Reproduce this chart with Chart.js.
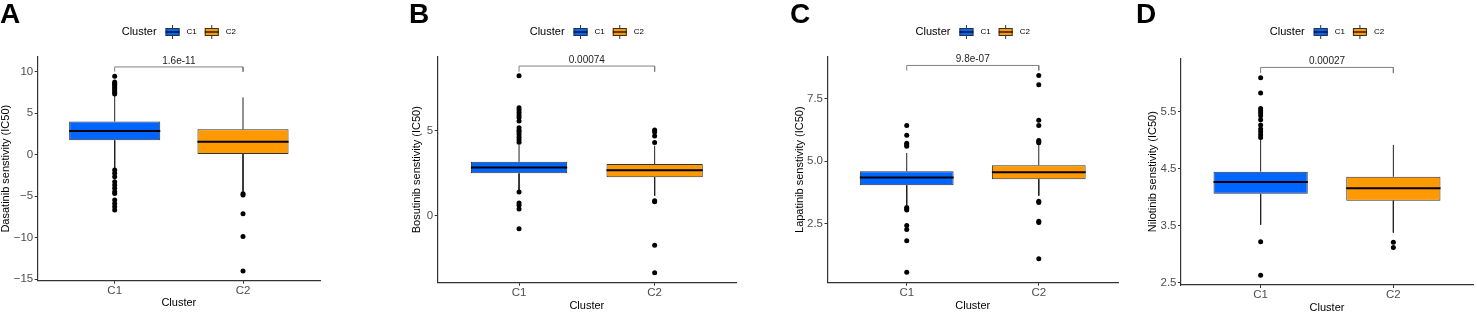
<!DOCTYPE html>
<html lang="en">
<head>
  <meta charset="UTF-8" />
  <title>Drug sensitivity by cluster</title>
  <script src="https://cdn.jsdelivr.net/npm/chart.js"></script>
  <style>
    html, body { margin: 0; padding: 0; background: #fff; overflow: hidden; }
    body { width: 1477px; height: 313px; position: relative; }
    .panel { position: absolute; top: 0; height: 313px; }
  </style>
</head>
<body>
  <div class="panel" style="left:0;width:324px"><canvas id="chartA"></canvas></div>
  <div class="panel" style="left:409px;width:331px"><canvas id="chartB"></canvas></div>
  <div class="panel" style="left:790px;width:332px"><canvas id="chartC"></canvas></div>
  <div class="panel" style="left:1136px;width:341px"><canvas id="chartD"></canvas></div>

  <script>
    const clusters = ['C1', 'C2'];
    const clusterColors = ['#0066ff', '#ff9900'];

    // box summaries: [lower whisker, Q1, median, Q3, upper whisker]
    const dasatinibC1 = [-1.6, 1.73, 2.86, 4.0, 7.2];
    const dasatinibC2 = [-4.45, 0.07, 1.57, 3.06, 6.9];
    const dasatinibOutC1 = [9.45, 8.75, 8.6, 8.45, 8.3, 8.1, 7.9, 7.7, 7.5, 7.3,
      -1.84, -2.24, -2.65, -3.25, -3.65, -4.05, -4.46, -4.66, -5.46, -5.86, -6.27, -6.67];
    const dasatinibOutC2 = [-4.7, -4.85, -7.1, -9.85, -14.0];
    const dasatinibTicks = [-15, -10, -5, 0, 5, 10];
    const dasatinibTickLabels = ['−15', '−10', '−5', '0', '5', '10'];
    const dasatinibRange = [-15.17, 11.8];
    const dasatinibBracket = [10.0, 10.57];

    const bosutinibC1 = [1.45, 2.47, 2.82, 3.15, 4.15];
    const bosutinibC2 = [1.15, 2.24, 2.65, 3.02, 4.1];
    const bosutinibOutC1 = [8.21, 6.33, 6.2, 6.05, 5.9, 5.75, 5.55, 5.15, 5.0, 4.9, 4.75, 4.6, 4.45, 4.3,
      1.37, 0.72, 0.6, 0.37, -0.79];
    const bosutinibOutC2 = [5.02, 4.9, 4.66, 4.29, 0.86, 0.8, -1.76, -3.37];
    const bosutinibTicks = [0, 5];
    const bosutinibTickLabels = ['0', '5'];
    const bosutinibRange = [-3.96, 9.33];
    const bosutinibBracket = [8.45, 8.78];

    const lapatinibC1 = [3.25, 4.04, 4.35, 4.6, 5.33];
    const lapatinibC2 = [3.62, 4.28, 4.56, 4.84, 5.7];
    const lapatinibOutC1 = [6.43, 6.04, 5.72, 5.66, 5.6, 3.15, 3.1, 3.05, 2.43, 2.27, 1.82, 0.56];
    const lapatinibOutC2 = [8.43, 8.06, 6.64, 6.43, 5.83, 5.78, 5.74, 3.4, 3.35, 2.6, 2.55, 1.1];
    const lapatinibTicks = [2.5, 5.0, 7.5];
    const lapatinibTickLabels = ['2.5', '5.0', '7.5'];
    const lapatinibRange = [0.14, 9.18];
    const lapatinibBracket = [8.63, 8.83];

    const nilotinibC1 = [3.52, 4.06, 4.27, 4.45, 5.03];
    const nilotinibC2 = [3.38, 3.94, 4.16, 4.36, 4.92];
    const nilotinibOutC1 = [6.1, 5.83, 5.56, 5.52, 5.48, 5.43, 5.36, 5.27, 5.2, 5.15, 5.1, 5.05, 3.22, 2.63];
    const nilotinibOutC2 = [3.21, 3.12];
    const nilotinibTicks = [2.5, 3.5, 4.5, 5.5];
    const nilotinibTickLabels = ['2.5', '3.5', '4.5', '5.5'];
    const nilotinibRange = [2.46, 6.44];
    const nilotinibBracket = [6.18, 6.28];

    const pValues = ['1.6e-11', '0.00074', '9.8e-07', '0.00027'];

    const BOX_WIDTH = 0.71;
    const FONT = '"Liberation Sans", Arial, Helvetica, sans-serif';
    Chart.defaults.font.family = FONT;

    // p-value label and the "Cluster" legend row (ggplot style keys)
    const ggExtras = {
      id: 'ggExtras',
      afterDraw(chart, args, opts) {
        const {ctx, chartArea, scales: {x, y}} = chart;
        ctx.save();
        ctx.textBaseline = 'middle';

        ctx.font = '10px ' + FONT;
        ctx.fillStyle = '#222';
        ctx.textAlign = 'center';
        ctx.fillText(opts.pLabel, x.getPixelForValue(1.5), y.getPixelForValue(opts.bracketTop) - 6);

        ctx.textAlign = 'left';
        const titleFont = '11px ' + FONT;
        const keyFont = '8px ' + FONT;
        const keyW = 14, keyH = 8;
        ctx.font = titleFont;
        const wt = ctx.measureText('Cluster').width;
        ctx.font = keyFont;
        const wk = clusters.map(c => ctx.measureText(c).width);
        const total = wt + 9 + wk.reduce((a, w) => a + keyW + 7 + w, 0) + 8 * (clusters.length - 1);
        let cx = (chartArea.left + chartArea.right) / 2 - total / 2;
        const cy = opts.legendY;

        ctx.font = titleFont;
        ctx.fillStyle = '#000';
        ctx.fillText('Cluster', cx, cy);
        cx += wt + 9;

        clusters.forEach((c, i) => {
          ctx.strokeStyle = '#333';
          ctx.lineWidth = 1;
          ctx.beginPath();
          ctx.moveTo(cx + keyW / 2, cy - keyH / 2 - 3);
          ctx.lineTo(cx + keyW / 2, cy + keyH / 2 + 3);
          ctx.stroke();
          ctx.fillStyle = clusterColors[i];
          ctx.fillRect(cx, cy - keyH / 2, keyW, keyH);
          ctx.strokeRect(cx + 0.5, cy - keyH / 2 + 0.5, keyW - 1, keyH - 1);
          ctx.strokeStyle = '#000';
          ctx.lineWidth = 1.2;
          ctx.beginPath();
          ctx.moveTo(cx, cy);
          ctx.lineTo(cx + keyW, cy);
          ctx.stroke();
          cx += keyW + 7;
          ctx.font = keyFont;
          ctx.fillStyle = '#000';
          ctx.fillText(c, cx, cy);
          cx += wk[i] + 8;
        });
        ctx.restore();
      }
    };

    function makePanel(id, p) {
      const summaries = [p.c1, p.c2];
      const outliers = [p.out1, p.out2];

      const medians = [], whiskers = [];
      summaries.forEach((s, i) => {
        const x = i + 1;
        medians.push({x: x - BOX_WIDTH / 2, y: s[2]}, {x: x + BOX_WIDTH / 2, y: s[2]}, {x: x, y: null});
        whiskers.push({x: x, y: s[3]}, {x: x, y: s[4]}, {x: x, y: null},
                      {x: x, y: s[1]}, {x: x, y: s[0]}, {x: x, y: null});
      });
      const points = [];
      outliers.forEach((arr, i) => arr.forEach(v => points.push({x: i + 1, y: v})));
      const bracket = [
        {x: 1, y: p.bracket[0]}, {x: 1, y: p.bracket[1]},
        {x: 2, y: p.bracket[1]}, {x: 2, y: p.bracket[0]}
      ];

      const axisBorder = {display: true, color: '#333', width: 1.2};

      new Chart(document.getElementById(id), {
        type: 'scatter',
        data: {
          datasets: [
            {
              type: 'scatter', label: 'outliers', data: points,
              pointRadius: 2.5, backgroundColor: '#000', borderWidth: 0, order: 0
            },
            {
              type: 'line', label: 'median', data: medians,
              borderColor: '#000', borderWidth: 2, pointRadius: 0, fill: false, order: 1
            },
            {
              type: 'bar', label: 'box',
              data: summaries.map((s, i) => ({x: i + 1, y: [s[1], s[3]]})),
              backgroundColor: clusterColors, borderColor: '#333', borderWidth: 1,
              borderSkipped: false, barPercentage: BOX_WIDTH, categoryPercentage: 1, order: 2
            },
            {
              type: 'line', label: 'whiskers', data: whiskers,
              borderColor: '#222', borderWidth: 1, pointRadius: 0, fill: false, order: 3
            },
            {
              type: 'line', label: 'bracket', data: bracket,
              borderColor: '#808080', borderWidth: 1, pointRadius: 0, fill: false, order: 4
            }
          ]
        },
        options: {
          responsive: true,
          maintainAspectRatio: false,
          animation: false,
          events: [],
          layout: {padding: 0},
          plugins: {
            legend: {display: false},
            tooltip: {enabled: false},
            title: {
              display: true, text: p.letter, align: 'start', color: '#000',
              font: {size: 28, weight: 'bold', lineHeight: 1},
              padding: {top: 1, bottom: p.top - 29}
            },
            ggExtras: {pLabel: p.pLabel, bracketTop: p.bracket[1], legendY: 32}
          },
          scales: {
            x: {
              type: 'linear', min: 0.4, max: 2.6, offset: false,
              afterFit: s => { s.height = p.xH; },
              afterBuildTicks: s => { s.ticks = clusters.map((c, i) => ({value: i + 1})); },
              ticks: {callback: (v, i) => clusters[i], color: '#4d4d4d', font: {size: 11.5}, padding: 0, maxRotation: 0, autoSkip: false},
              grid: {display: true, offset: false, drawOnChartArea: false, drawTicks: true, tickLength: 3, color: '#333'},
              border: axisBorder,
              title: {display: true, text: 'Cluster', color: '#000', font: {size: 11, lineHeight: 1.2}, padding: {top: 0, bottom: p.xTitlePad}}
            },
            y: {
              min: p.range[0], max: p.range[1],
              afterFit: s => { s.width = p.yW; },
              afterBuildTicks: s => { s.ticks = p.ticks.map(v => ({value: v})); },
              ticks: {callback: (v, i) => p.tickLabels[i], color: '#4d4d4d', font: {size: 11.5}, padding: 1.5},
              grid: {display: true, drawOnChartArea: false, drawTicks: true, tickLength: 3, color: '#333'},
              border: axisBorder,
              title: {display: true, text: p.yTitle, color: '#000', font: {size: 11, lineHeight: 1}, padding: {top: p.yTitlePad, bottom: 0}}
            }
          }
        },
        plugins: [ggExtras]
      });
    }

    makePanel('chartA', {
      letter: 'A', yTitle: 'Dasatinib senstivity (IC50)',
      c1: dasatinibC1, c2: dasatinibC2, out1: dasatinibOutC1, out2: dasatinibOutC2,
      ticks: dasatinibTicks, tickLabels: dasatinibTickLabels, range: dasatinibRange,
      bracket: dasatinibBracket, pLabel: pValues[0],
      yW: 37.7, top: 56.7, xH: 32.3, yTitlePad: 0, xTitlePad: 3
    });
    makePanel('chartB', {
      letter: 'B', yTitle: 'Bosutinib senstivity (IC50)',
      c1: bosutinibC1, c2: bosutinibC2, out1: bosutinibOutC1, out2: bosutinibOutC2,
      ticks: bosutinibTicks, tickLabels: bosutinibTickLabels, range: bosutinibRange,
      bracket: bosutinibBracket, pLabel: pValues[1],
      yW: 28.7, top: 56.7, xH: 30.3, yTitlePad: 2.5, xTitlePad: 0
    });
    makePanel('chartC', {
      letter: 'C', yTitle: 'Lapatinib senstivity (IC50)',
      c1: lapatinibC1, c2: lapatinibC2, out1: lapatinibOutC1, out2: lapatinibOutC2,
      ticks: lapatinibTicks, tickLabels: lapatinibTickLabels, range: lapatinibRange,
      bracket: lapatinibBracket, pLabel: pValues[2],
      yW: 37.5, top: 56.7, xH: 30.3, yTitlePad: 4.5, xTitlePad: 0
    });
    makePanel('chartD', {
      letter: 'D', yTitle: 'Nilotinib senstivity (IC50)',
      c1: nilotinibC1, c2: nilotinibC2, out1: nilotinibOutC1, out2: nilotinibOutC2,
      ticks: nilotinibTicks, tickLabels: nilotinibTickLabels, range: nilotinibRange,
      bracket: nilotinibBracket, pLabel: pValues[3],
      yW: 45, top: 58.3, xH: 28, yTitlePad: 11, xTitlePad: -2
    });
  </script>
</body>
</html>
